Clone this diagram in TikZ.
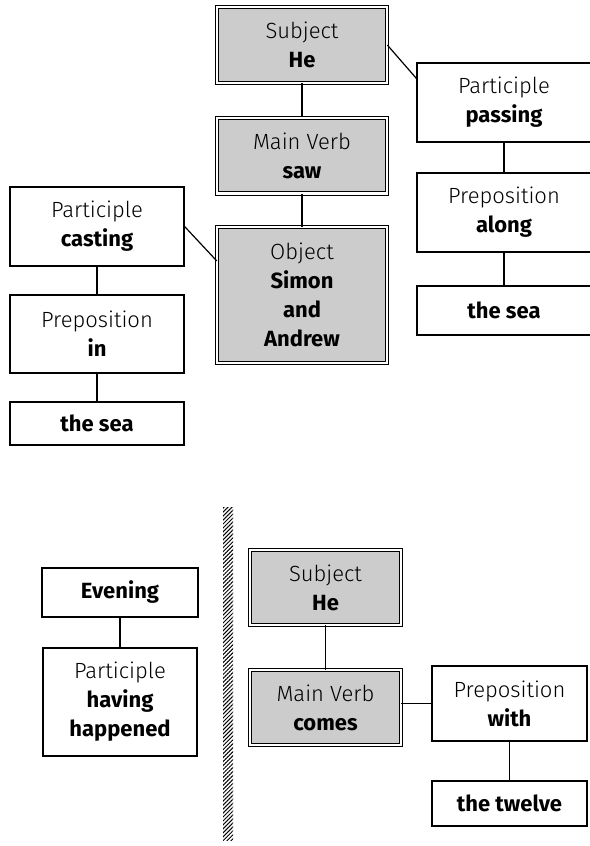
\documentclass[tikz,border=0pt]{standalone}
\usepackage{fontspec}
\IfFontExistsTF{Fira Sans Light}
  {\setmainfont{Fira Sans Light}[BoldFont=Fira Sans Bold]}
  {\setmainfont{Fira Sans}}
\usetikzlibrary{calc,patterns.meta}
\tikzset{
  headbox/.style={draw,double,double distance=1.2pt,line width=0.5pt,fill=black!20,
    align=center,inner sep=0pt,font=\fontsize{11}{14.5}\selectfont},
  wordbox/.style={draw,fill=white,line width=0.6pt,
    align=center,inner sep=0pt,font=\fontsize{11}{14.5}\selectfont},
  link/.style={line width=0.6pt}
}

\begin{document}
\begin{tikzpicture}[x=0.5pt,y=-0.5pt]

    % -- Page frame (image pixels) --
    \useasboundingbox (0,0) rectangle (589,846);

    % -- First sentence: main line --
    \node[headbox,minimum width=84.8pt,minimum height=37.8pt] (subj) at (302,45)
      {Subject\\\textbf{He}};
    \node[headbox,minimum width=84.8pt,minimum height=37.8pt] (verb) at (302,155.5)
      {Main Verb\\\textbf{saw}};
    \node[headbox,minimum width=84.8pt,minimum height=67.8pt] (obj) at (302,295)
      {Object\\\textbf{Simon}\\\textbf{and}\\\textbf{Andrew}};

    % -- Left branch (on the object) --
    \node[wordbox,minimum width=87pt,minimum height=39.5pt] (cast) at (97,226.5)
      {Participle\\\textbf{casting}};
    \node[wordbox,minimum width=87pt,minimum height=39pt] (in) at (97,334)
      {Preposition\\\textbf{in}};
    \node[wordbox,minimum width=87pt,minimum height=21.5pt] (seaA) at (97,423.5)
      {\textbf{the sea}};

    % -- Right branch (on the subject) --
    \node[wordbox,minimum width=87pt,minimum height=39.5pt] (pass) at (504,102.5)
      {Participle\\\textbf{passing}};
    \node[wordbox,minimum width=87pt,minimum height=39.5pt] (along) at (504,212.5)
      {Preposition\\\textbf{along}};
    \node[wordbox,minimum width=87pt,minimum height=24.5pt] (seaB) at (504,310.5)
      {\textbf{the sea}};

    % -- Connectors --
    \draw[link] (subj) -- (verb);
    \draw[link] (verb) -- (obj);
    \draw[link] (cast.east) -- ($(obj.north west)!0.25!(obj.south west)$);
    \draw[link] (cast) -- (in);
    \draw[link] (in) -- (seaA);
    \draw[link] (subj.east) -- ($(pass.north west)!0.2!(pass.south west)$);
    \draw[link] (pass) -- (along);
    \draw[link] (along) -- (seaB);

    % -- Hatched separator --
    \fill[pattern={Lines[angle=45,distance=1.4pt,line width=0.5pt]}]
      (223,507) rectangle (233,840);

    % -- Second sentence --
    \node[wordbox,minimum width=78pt,minimum height=24.5pt] (eve) at (120,592.5)
      {\textbf{Evening}};
    \node[wordbox,minimum width=77pt,minimum height=54pt] (hav) at (120,702)
      {Participle\\\textbf{having}\\\textbf{happened}};
    \node[headbox,minimum width=75.3pt,minimum height=37.3pt] (subjB) at (325.5,587.5)
      {Subject\\\textbf{He}};
    \node[headbox,minimum width=75.3pt,minimum height=37.3pt] (verbB) at (325.5,707.5)
      {Main Verb\\\textbf{comes}};
    \node[wordbox,minimum width=77.5pt,minimum height=37.5pt] (with) at (509.5,703.5)
      {Preposition\\\textbf{with}};
    \node[wordbox,minimum width=77.5pt,minimum height=22.5pt] (twelve) at (509.5,803.5)
      {\textbf{the twelve}};

    \draw[link] (eve) -- (hav);
    \draw[link] (subjB) -- (verbB);
    \draw[link] (with.west) -- (with.west -| verbB.east);
    \draw[link] (with) -- (twelve);

\end{tikzpicture}
\end{document}
